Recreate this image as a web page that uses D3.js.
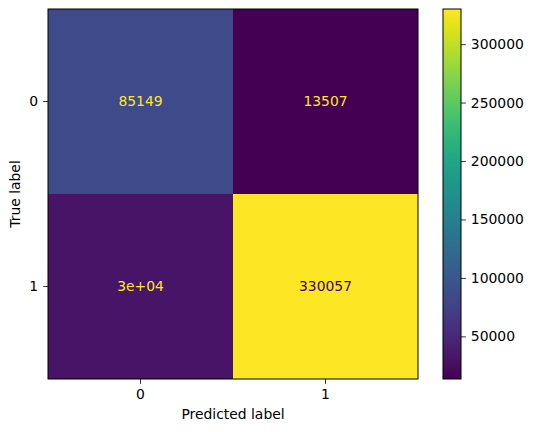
<!DOCTYPE html>
<html>
<head>
<meta charset="utf-8">
<script src="https://cdn.jsdelivr.net/npm/d3@7"></script>
<style>
  body { margin: 0; background: #fff; }
  text { font-family: "DejaVu Sans", sans-serif; }
</style>
</head>
<body>
<svg id="cm"></svg>
<script>
// confusion matrix data
let classLabels = ['0', '1'];
let matrixRows = [
  [85149, 13507],
  [29885, 330057]
];
let cellText = [
  ['85149', '13507'],
  ['3e+04', '330057']
];
let cbarTicks = [50000, 100000, 150000, 200000, 250000, 300000];

let widthSVG = 534;
let heightSVG = 432;
let margins = { top: 9, left: 48 };
let size = 370;
let fontPx = 13.9;

let SVG = d3.select('svg#cm')
            .attr('width', widthSVG)
            .attr('height', heightSVG);

let SVGG = SVG.append('g')
              .attr('transform', `translate(${margins.left}, ${margins.top})`);

// flatten for drawing
let cells = [];
matrixRows.forEach((row, i) => row.forEach((v, j) => cells.push({ i, j, v, t: cellText[i][j] })));

let allVals = cells.map(d => d.v);
let vmin = d3.min(allVals), vmax = d3.max(allVals);
let color = d3.scaleSequential(d3.interpolateViridis).domain([vmin, vmax]);

let x = d3.scaleBand().domain(classLabels).range([0, size]);
let y = d3.scaleBand().domain(classLabels).range([0, size]);

// cells
SVGG.selectAll('rect.cell')
    .data(cells)
    .enter()
    .append('rect')
    .classed('cell', true)
    .attr('x', d => x(classLabels[d.j]))
    .attr('y', d => y(classLabels[d.i]))
    .attr('width', x.bandwidth())
    .attr('height', y.bandwidth())
    .style('fill', d => color(d.v))
    .attr('shape-rendering', 'crispEdges');

// cell values, dark text on light cells
let thresh = (vmin + vmax) / 2;
SVGG.selectAll('text.val')
    .data(cells)
    .enter()
    .append('text')
    .classed('val', true)
    .text(d => d.t)
    .attr('x', d => x(classLabels[d.j]) + x.bandwidth() / 2)
    .attr('y', d => y(classLabels[d.i]) + y.bandwidth() / 2)
    .attr('dy', '0.35em')
    .style('text-anchor', 'middle')
    .style('font-size', `${fontPx}px`)
    .style('fill', d => d.v < thresh ? color(vmax) : color(vmin));

// frame
SVGG.append('rect')
    .attr('width', size).attr('height', size)
    .style('fill', 'none').style('stroke', 'black').style('stroke-width', 1);

// axes
function styleAxis(g) {
  g.select('.domain').remove();
  g.selectAll('text').style('font-size', `${fontPx}px`).style('fill', 'black').style('font-family', '"DejaVu Sans", sans-serif');
  g.selectAll('line').style('stroke', 'black').style('stroke-width', 0.8);
}

SVGG.append('g')
    .attr('transform', `translate(0, ${size})`)
    .call(d3.axisBottom(x).tickSize(4.9).tickPadding(4.9))
    .call(styleAxis);

SVGG.append('g')
    .call(d3.axisLeft(y).tickSize(4.9).tickPadding(4.9))
    .call(styleAxis);

SVGG.append('text')
    .text('Predicted label')
    .attr('x', size / 2)
    .attr('y', size + 40)
    .style('text-anchor', 'middle')
    .style('font-size', `${fontPx}px`);

SVGG.append('text')
    .text('True label')
    .attr('transform', `translate(-28, ${size / 2}) rotate(-90)`)
    .style('text-anchor', 'middle')
    .style('font-size', `${fontPx}px`);

// colorbar
let cbX = 443, cbW = 18;
let cbScale = d3.scaleLinear().domain([vmin, vmax]).range([margins.top + size, margins.top]);

let defs = SVG.append('defs');
let grad = defs.append('linearGradient')
    .attr('id', 'cbGrad')
    .attr('x1', 0).attr('y1', 1).attr('x2', 0).attr('y2', 0);
grad.selectAll('stop')
    .data(d3.range(0, 1.0001, 0.05))
    .enter()
    .append('stop')
    .attr('offset', d => d)
    .attr('stop-color', d => d3.interpolateViridis(d));

SVG.append('rect')
    .attr('x', cbX).attr('y', margins.top)
    .attr('width', cbW).attr('height', size)
    .style('fill', 'url(#cbGrad)')
    .style('stroke', 'black').style('stroke-width', 1);

SVG.append('g')
    .attr('transform', `translate(${cbX + cbW}, 0)`)
    .call(d3.axisRight(cbScale).tickValues(cbarTicks).tickFormat(d3.format('d')).tickSize(4.9).tickPadding(4.9))
    .call(styleAxis);
</script>
</body>
</html>
